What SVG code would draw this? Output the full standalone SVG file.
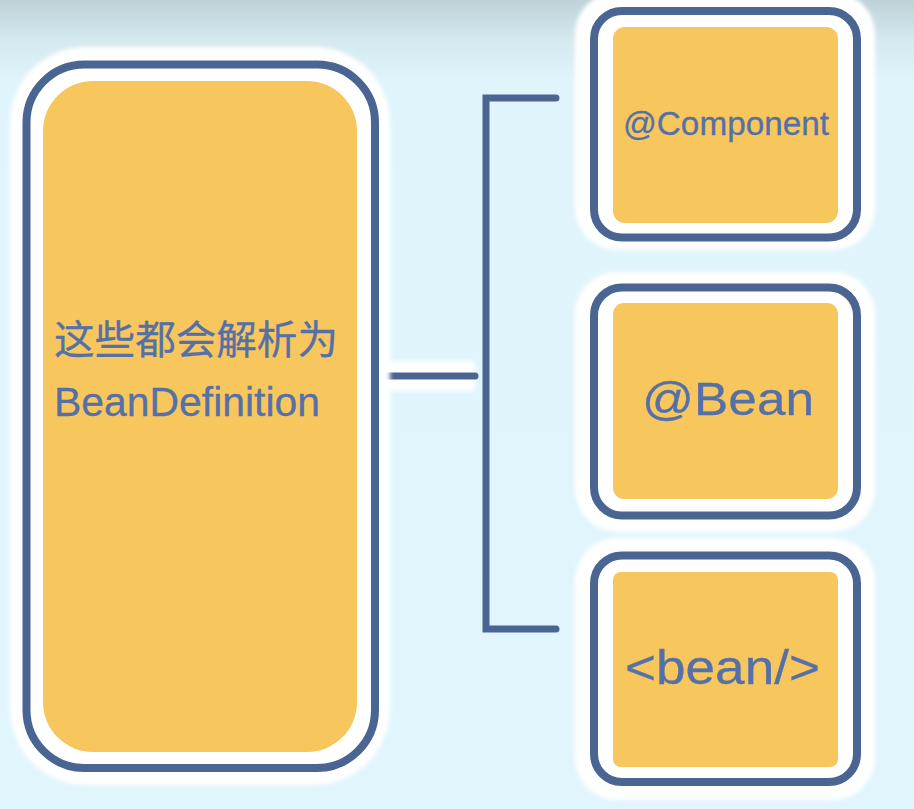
<svg xmlns="http://www.w3.org/2000/svg" width="914" height="809" viewBox="0 0 914 809">
<defs>
<linearGradient id="bg" x1="0" y1="0" x2="0" y2="1">
<stop offset="0" stop-color="#bed2d8"/>
<stop offset="0.05" stop-color="#d5e9f0"/>
<stop offset="0.1" stop-color="#e0f4fb"/>
<stop offset="1" stop-color="#e1f5fd"/>
</linearGradient>
<filter id="soft" x="-10%" y="-10%" width="120%" height="120%"><feGaussianBlur stdDeviation="2"/></filter>
</defs>
<style>
.halo{fill:#ffffff;filter:url(#soft)}
.frame{fill:#ffffff;stroke:#4a6592;stroke-width:8}
.fill{fill:#f7c65c}
.lbl{font-family:"Liberation Sans","Noto Sans CJK SC",Arial,sans-serif;fill:#5570a9;stroke:#5570a9;stroke-width:0.3}
.conn{stroke:#4a6592;stroke-width:7;fill:none;stroke-linecap:round;stroke-linejoin:miter}
</style>
<rect x="0" y="0" width="914" height="809" fill="url(#bg)"/>

<g id="connectors">
<rect x="380" y="361" width="95" height="30" class="halo"/>
<path class="conn" d="M556,98 H486 V629 H556"/>
<path class="conn" d="M385,376 H475"/>
</g>

<g id="node-main">
<rect class="halo" x="10" y="47" width="380" height="738" rx="76"/>
<rect class="frame" x="26.5" y="64.5" width="348.5" height="703.5" rx="58" stroke-width="7"/>
<rect class="fill" x="43" y="81" width="314" height="671" rx="50"/>
<text class="lbl" x="54" y="354" font-size="40" textLength="284" lengthAdjust="spacingAndGlyphs">这些都会解析为</text>
<text class="lbl" x="54" y="416" font-size="41" textLength="266" lengthAdjust="spacingAndGlyphs">BeanDefinition</text>
</g>

<g id="node-component">
<rect class="halo" x="575" y="-8" width="300" height="258" rx="42"/>
<rect class="frame" x="594" y="11" width="263" height="226.5" rx="28"/>
<rect class="fill" x="613" y="27" width="225" height="196" rx="12"/>
<text class="lbl" x="623" y="135" font-size="33" textLength="206" lengthAdjust="spacingAndGlyphs">@Component</text>
</g>

<g id="node-bean-annotation">
<rect class="halo" x="575" y="272" width="300" height="260" rx="42"/>
<rect class="frame" x="594" y="287.5" width="263" height="228" rx="28"/>
<rect class="fill" x="613" y="303" width="225" height="196" rx="11"/>
<text class="lbl" x="642" y="415" font-size="47" textLength="172" lengthAdjust="spacingAndGlyphs">@Bean</text>
</g>

<g id="node-bean-xml">
<rect class="halo" x="575" y="538" width="300" height="262" rx="42"/>
<rect class="frame" x="594" y="555.5" width="263" height="226.5" rx="28"/>
<rect class="fill" x="613" y="572" width="225" height="195" rx="8"/>
<text class="lbl" x="625" y="684" font-size="48" textLength="195" lengthAdjust="spacingAndGlyphs">&lt;bean/&gt;</text>
</g>
</svg>
